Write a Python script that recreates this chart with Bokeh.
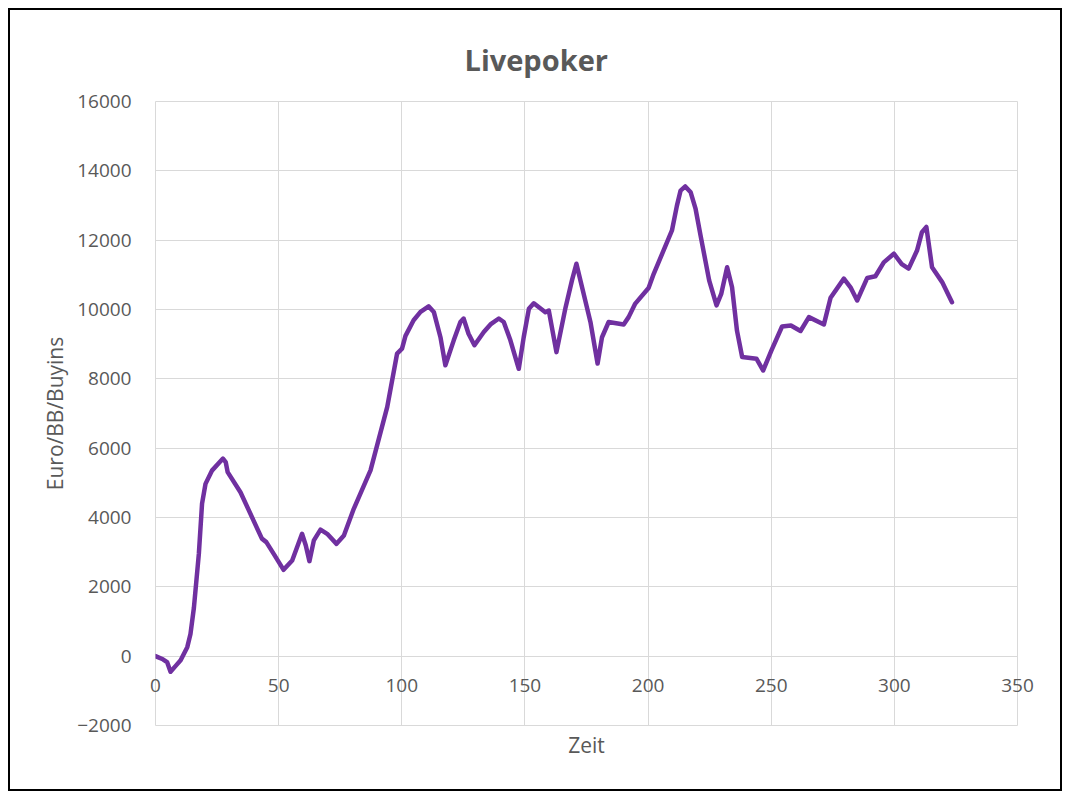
from bokeh.plotting import figure
from bokeh.models import Range1d, SingleIntervalTicker
from bokeh.embed import file_html
from bokeh.resources import INLINE

zeit = [0, 3, 4.7, 6.1, 8.2, 10.2, 12.9, 14.2, 15.6, 17.6, 18.9, 20.3, 23, 27.4, 28.5, 29.3,
        34.5, 43.2, 45, 48, 52, 55.5, 59.5, 61, 62.5, 64.3, 67, 69.7, 73.5, 76.5, 80.5, 87.3,
        94.1, 98.1, 100.1, 101.5, 104.8, 107.6, 110.9, 113, 115.7, 117.7, 121.1, 123.8,
        125.1, 127.1, 129.5, 133.3, 136, 139.4, 141.4, 144.1, 147.5, 149.5, 151.6, 153.6,
        158.3, 159.7, 162.8, 166.5, 169.1, 170.9, 173.2, 176.6, 179.5, 181.3, 184, 190.1,
        192.1, 194.8, 200.2, 202.3, 209.7, 211.7, 213.2, 215.1, 217.3, 219.3, 221.3,
        224.8, 227.8, 229.7, 232.1, 234.1, 236.1, 238.2, 244, 246.7, 250.1, 254.4, 258,
        261.9, 265.3, 271.4, 274.1, 279.5, 282.2, 284.9, 289, 292.3, 295.7, 299.8, 303,
        305.8, 309.2, 311.2, 313, 315.3, 319.4, 323.4]
wert = [0, -90, -170, -450, -280, -120, 260, 640, 1400, 2950, 4400, 4970, 5360, 5700, 5600, 5310,
        4730, 3390, 3290, 2950, 2490, 2760, 3530, 3200, 2740, 3340, 3650, 3530, 3240, 3480, 4250, 5360,
        7190, 8730, 8870, 9240, 9690, 9930, 10090, 9930, 9200, 8390, 9110, 9640,
        9740, 9300, 8970, 9350, 9570, 9740, 9640, 9110, 8290, 9200, 10020, 10180,
        9920, 9970, 8770, 10060, 10840, 11320, 10640, 9640, 8440, 9200, 9640, 9570,
        9780, 10170, 10620, 11030, 12280, 12990, 13430, 13550, 13380, 12900, 12140,
        10840, 10120, 10450, 11220, 10640, 9390, 8630, 8580, 8240, 8820, 9510, 9540,
        9380, 9780, 9570, 10340, 10890, 10640, 10260, 10910, 10960, 11360, 11610, 11310,
        11180, 11700, 12230, 12380, 11220, 10790, 10210]

title_text = "Livepoker"
x_label = "Zeit"
y_label = "Euro/BB/Buyins"
x_min, x_max, x_step = 0, 350, 50
y_min, y_max, y_step = -2000, 16000, 2000

FONT = "Open Sans"
TXT = "#595959"
GRID = "#d9d9d9"

p = figure(width=1054, height=783, output_backend="svg", toolbar_location=None,
           x_range=Range1d(x_min, x_max), y_range=Range1d(y_min, y_max),
           min_border_left=145, min_border_right=47, min_border_top=91, min_border_bottom=68)
p.styles = {"border": "2px solid #000000", "margin-left": "8px", "margin-top": "8px"}
p.background_fill_color = "white"
p.border_fill_color = "white"
p.outline_line_color = GRID

p.title.text = title_text
p.title.align = "left"
p.title.offset = 309
p.title.text_font = FONT
p.title.text_font_size = "29px"
p.title.text_font_style = "bold"
p.title.text_color = TXT
p.title.standoff = 45

p.xaxis.ticker = SingleIntervalTicker(interval=x_step)
p.yaxis.ticker = SingleIntervalTicker(interval=y_step)
for ax in (p.xaxis, p.yaxis):
    ax.axis_line_color = None
    ax.major_tick_line_color = None
    ax.minor_tick_line_color = None
    ax.major_tick_out = 0
    ax.major_tick_in = 0
    ax.major_label_text_font = FONT
    ax.major_label_text_font_size = "19px"
    ax.major_label_text_color = TXT
    ax.axis_label_text_font = FONT
    ax.axis_label_text_font_size = "21px"
    ax.axis_label_text_font_style = "normal"
    ax.axis_label_text_color = TXT
p.xaxis.major_label_standoff = -51
p.xaxis.axis_label = x_label
p.xaxis.axis_label_standoff = 36
p.yaxis.major_label_standoff = 20
p.yaxis.axis_label = y_label
p.yaxis.axis_label_standoff = 5

p.xgrid.grid_line_color = GRID
p.ygrid.grid_line_color = GRID
p.xgrid.grid_line_width = 1
p.ygrid.grid_line_width = 1

p.line(zeit, wert, line_color="#7030A0", line_width=4.5, line_join="round", line_cap="round")

open("out.html", "w").write(file_html(p, INLINE))
